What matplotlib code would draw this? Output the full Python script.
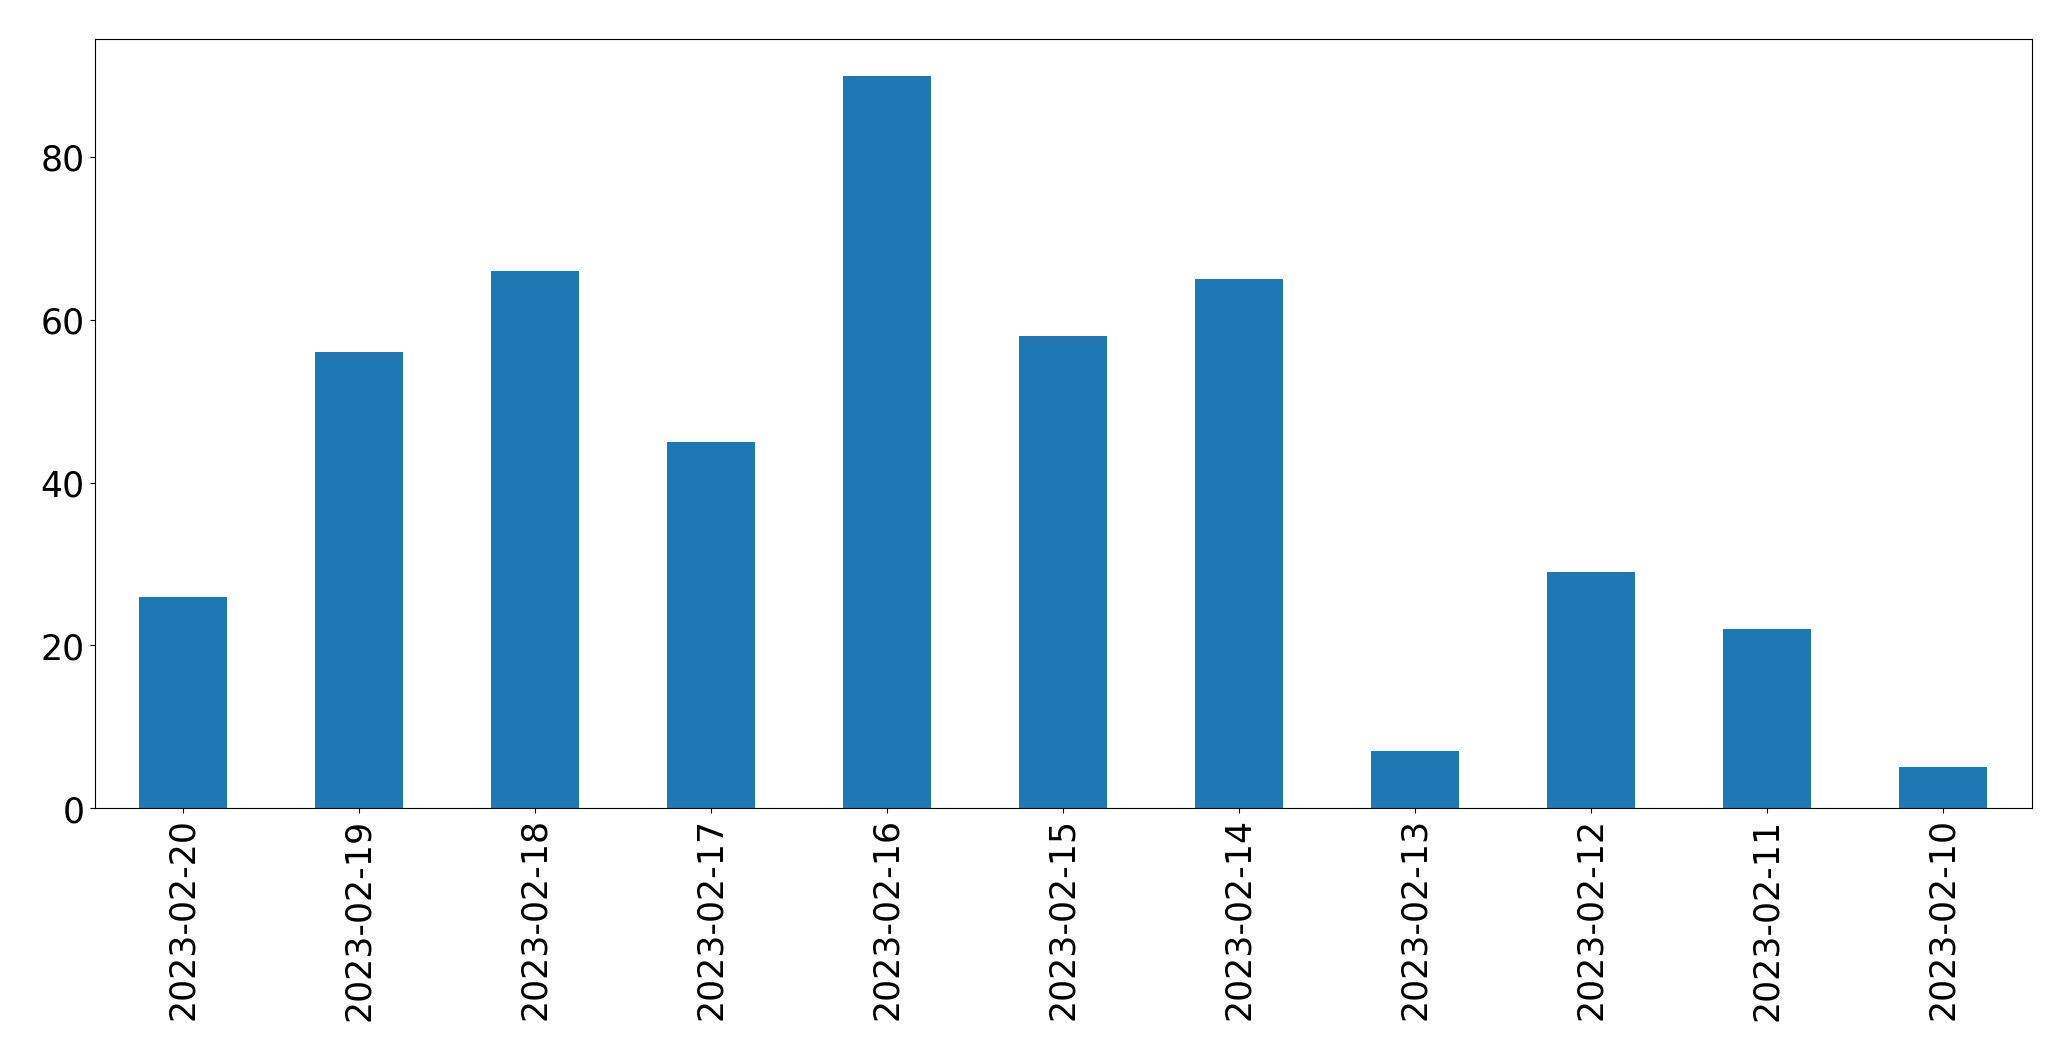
import pandas as pd
import matplotlib
matplotlib.use("Agg")
import matplotlib.pyplot as plt

# daily counts, newest first (as in the source chart)
dates = ["2023-02-20", "2023-02-19", "2023-02-18", "2023-02-17", "2023-02-16",
         "2023-02-15", "2023-02-14", "2023-02-13", "2023-02-12", "2023-02-11",
         "2023-02-10"]
counts = [26, 56, 66, 45, 90, 58, 65, 7, 29, 22, 5]

series = pd.Series(counts, index=dates)

fig = plt.figure(figsize=(20.71, 10.605), dpi=100)
ax = fig.add_axes([94.5 / 2071, 1 - 809 / 1061, (2031.5 - 94.5) / 2071, (809 - 39.5) / 1061])
series.plot(kind="bar", ax=ax, color="#1f77b4")
ax.tick_params(axis="both", labelsize=25)

fig.savefig("out.png", dpi=100)
